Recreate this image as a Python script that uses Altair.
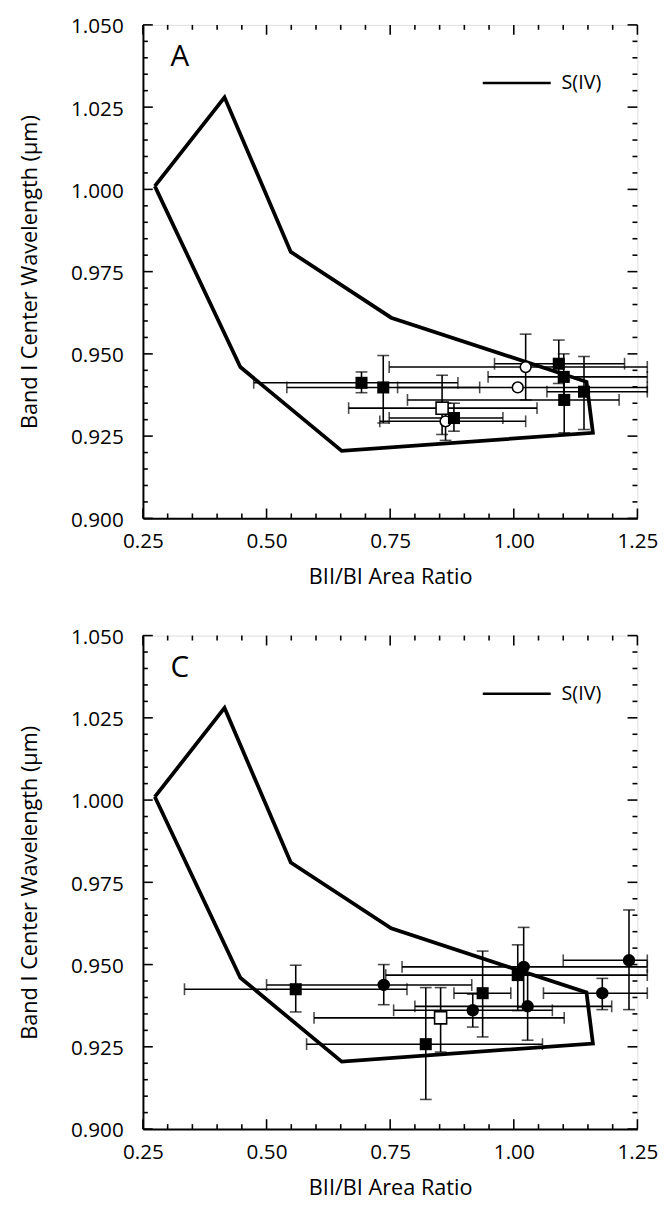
import altair as alt
import pandas as pd

FONT = "Open Sans"
W, H = 502, 501

# S(IV) field outline (closed polygon)
poly_x = [0.274, 0.415, 0.549, 0.752, 1.147, 1.160, 0.652, 0.447, 0.274]
poly_y = [1.001, 1.028, 0.981, 0.961, 0.9415, 0.926, 0.9205, 0.946, 1.001]

# Panel A data
a_kind = ["fsq", "fsq", "fsq", "fsq", "fsq", "fsq", "fsq", "ocirc", "ocirc", "ocirc", "osq"]
a_x    = [0.692, 0.736, 1.091, 1.101, 1.102, 1.142, 0.879, 1.008, 1.024, 0.862, 0.855]
a_y    = [0.9412, 0.9398, 0.9470, 0.9430, 0.9360, 0.9385, 0.9305, 0.9398, 0.9460, 0.9295, 0.9335]
a_xlo  = [0.474, 0.541, 0.961, 0.948, 0.785, 1.067, 0.748, 0.765, 0.748, 0.729, 0.666]
a_xhi  = [0.887, 0.931, 1.224, 1.270, 1.213, 1.270, 0.978, 1.270, 1.270, 1.024, 1.047]
a_ylo  = [0.9382, 0.9290, 0.9410, 0.9360, 0.9260, 0.9270, 0.9265, None, 0.9360, 0.9237, 0.9255]
a_yhi  = [0.9445, 0.9495, 0.9542, 0.9500, 0.9420, 0.9492, 0.9350, None, 0.9560, 0.9350, 0.9435]

# Panel C data
c_kind = ["fsq", "fcirc", "fsq", "fcirc", "osq", "fsq", "fcirc", "fsq", "fcirc", "fcirc", "fcirc"]
c_x    = [0.559, 0.737, 0.937, 0.917, 0.852, 0.822, 1.020, 1.008, 1.028, 1.179, 1.233]
c_y    = [0.9425, 0.9438, 0.9413, 0.9361, 0.9338, 0.9258, 0.9493, 0.9468, 0.9373, 0.9413, 0.9513]
c_xlo  = [0.334, 0.500, 0.879, 0.757, 0.596, 0.581, 0.774, 0.741, 0.800, 1.060, 1.100]
c_xhi  = [0.784, 0.915, 0.994, 1.078, 1.102, 1.058, 1.270, 1.270, 1.198, 1.270, 1.270]
c_ylo  = [0.9356, 0.9378, 0.9280, 0.9310, 0.9234, 0.9090, 0.9370, 0.9360, 0.9270, 0.9363, 0.9363]
c_yhi  = [0.9498, 0.9500, 0.9541, 0.9410, 0.9430, 0.9430, 0.9613, 0.9560, 0.9470, 0.9458, 0.9666]

# Axis ticks
x_major = [0.25, 0.50, 0.75, 1.00, 1.25]
x_minor = [0.30, 0.35, 0.40, 0.45, 0.55, 0.60, 0.65, 0.70, 0.80, 0.85, 0.90, 0.95,
           1.05, 1.10, 1.15, 1.20]
y_major = [0.900, 0.925, 0.950, 0.975, 1.000, 1.025, 1.050]
y_minor = [0.905, 0.910, 0.915, 0.920, 0.930, 0.935, 0.940, 0.945, 0.955, 0.960,
           0.965, 0.970, 0.980, 0.985, 0.990, 0.995, 1.005, 1.010, 1.015, 1.020,
           1.030, 1.035, 1.040, 1.045]

legend_label = "S(IV)"
x_title = "BII/BI Area Ratio"
y_title = "Band I Center Wavelength (μm)"

xs = alt.Scale(domain=[0.25, 1.25], nice=False, zero=False)
ys = alt.Scale(domain=[0.900, 1.050], nice=False, zero=False)


def panel(kind, x, y, xlo, xhi, ylo, yhi, letter):
    df = pd.DataFrame({"kind": kind, "x": x, "y": y, "xlo": xlo, "xhi": xhi,
                       "ylo": ylo, "yhi": yhi})
    poly = pd.DataFrame({"i": list(range(len(poly_x))), "px": poly_x, "py": poly_y})
    xmaj = pd.DataFrame({"t": x_major})
    xmin = pd.DataFrame({"t": x_minor})
    ymaj = pd.DataFrame({"t": y_major})
    ymin = pd.DataFrame({"t": y_minor})

    xaxis = alt.Axis(values=x_major, format=".2f", ticks=False, grid=False,
                     domainColor="black", domainWidth=2, labelFlush=False,
                     labelOverlap=False, labelFont=FONT, labelFontSize=21,
                     labelColor="black", labelPadding=13, title=x_title,
                     titleFont=FONT, titleFontSize=22, titleFontWeight="normal",
                     titleColor="black", titlePadding=15)
    yaxis = alt.Axis(values=y_major, format=".3f", ticks=False, grid=False,
                     domainColor="black", domainWidth=2, labelFlush=False,
                     labelOverlap=False, labelFont=FONT, labelFontSize=21,
                     labelColor="black", labelPadding=20, labelOffset=2,
                     title=y_title, titleFont=FONT, titleFontSize=22,
                     titleFontWeight="normal", titleColor="black", titlePadding=30)

    base = alt.Chart(df)

    outline = alt.Chart(poly).mark_line(color="black", strokeWidth=3.8,
                                        strokeJoin="miter").encode(
        x=alt.X("px:Q", scale=xs, axis=xaxis),
        y=alt.Y("py:Q", scale=ys, axis=yaxis),
        order="i:Q")

    hbar = base.mark_rule(color="black", strokeWidth=1.6, clip=False).encode(
        x=alt.X("xlo:Q", scale=xs), x2="xhi:Q", y=alt.Y("y:Q", scale=ys))
    vbar = base.mark_rule(color="black", strokeWidth=1.6).encode(
        x=alt.X("x:Q", scale=xs), y=alt.Y("ylo:Q", scale=ys), y2="yhi:Q")
    capl = base.mark_tick(orient="vertical", color="black", size=12,
                          thickness=1.6, clip=False).encode(
        x=alt.X("xlo:Q", scale=xs), y=alt.Y("y:Q", scale=ys))
    capr = base.mark_tick(orient="vertical", color="black", size=12,
                          thickness=1.6, clip=False).encode(
        x=alt.X("xhi:Q", scale=xs), y=alt.Y("y:Q", scale=ys))
    capb = base.mark_tick(orient="horizontal", color="black", size=12,
                          thickness=1.6).encode(
        x=alt.X("x:Q", scale=xs), y=alt.Y("ylo:Q", scale=ys))
    capt = base.mark_tick(orient="horizontal", color="black", size=12,
                          thickness=1.6).encode(
        x=alt.X("x:Q", scale=xs), y=alt.Y("yhi:Q", scale=ys))

    fsq = base.transform_filter(alt.datum.kind == "fsq").mark_point(
        shape="square", filled=True, color="black", size=150, opacity=1).encode(
        x=alt.X("x:Q", scale=xs), y=alt.Y("y:Q", scale=ys))
    osq = base.transform_filter(alt.datum.kind == "osq").mark_point(
        shape="square", filled=True, fill="white", stroke="black",
        strokeWidth=1.6, size=150, opacity=1).encode(
        x=alt.X("x:Q", scale=xs), y=alt.Y("y:Q", scale=ys))
    fci = base.transform_filter(alt.datum.kind == "fcirc").mark_point(
        shape="circle", filled=True, color="black", size=160, opacity=1).encode(
        x=alt.X("x:Q", scale=xs), y=alt.Y("y:Q", scale=ys))
    oci = base.transform_filter(alt.datum.kind == "ocirc").mark_point(
        shape="circle", filled=True, fill="white", stroke="black",
        strokeWidth=1.6, size=120, opacity=1).encode(
        x=alt.X("x:Q", scale=xs), y=alt.Y("y:Q", scale=ys))

    def tick_layer(d, orient_side, length):
        m = alt.Chart(d).mark_rule(color="black", strokeWidth=1.6)
        if orient_side == "bottom":
            return m.encode(x=alt.X("t:Q", scale=xs), y=alt.value(H), y2=alt.value(H - length))
        if orient_side == "top":
            return m.encode(x=alt.X("t:Q", scale=xs), y=alt.value(0), y2=alt.value(length))
        if orient_side == "left":
            return m.encode(y=alt.Y("t:Q", scale=ys), x=alt.value(0), x2=alt.value(length))
        return m.encode(y=alt.Y("t:Q", scale=ys), x=alt.value(W), x2=alt.value(W - length))

    ticks = []
    for side in ["bottom", "top"]:
        ticks.append(tick_layer(xmaj, side, 10))
        ticks.append(tick_layer(xmin, side, 5))
    for side in ["left", "right"]:
        ticks.append(tick_layer(ymaj, side, 10))
        ticks.append(tick_layer(ymin, side, 5))

    leg_line = alt.Chart(pd.DataFrame({"lab": [legend_label]})).mark_rule(
        color="black", strokeWidth=2.5).encode(
        x=alt.value(345), x2=alt.value(414), y=alt.value(59))
    leg_text = alt.Chart(pd.DataFrame({"lab": [legend_label]})).mark_text(
        align="left", baseline="middle", font=FONT, fontSize=20, color="black").encode(
        x=alt.value(425), y=alt.value(59), text="lab:N")
    letter_text = alt.Chart(pd.DataFrame({"lab": [letter]})).mark_text(
        align="left", baseline="alphabetic", font=FONT, fontSize=30, color="black").encode(
        x=alt.value(28), y=alt.value(42), text="lab:N")

    layers = [outline, hbar, vbar, capl, capr, capb, capt, *ticks, oci, osq, fci,
              fsq, leg_line, leg_text, letter_text]
    return alt.layer(*layers).properties(width=W, height=H)


pa = panel(a_kind, a_x, a_y, a_xlo, a_xhi, a_ylo, a_yhi, "A")
pc = panel(c_kind, c_x, c_y, c_xlo, c_xhi, c_ylo, c_yhi, "C")

chart = alt.vconcat(pa, pc, spacing=38).properties(
    padding={"left": 9, "top": -2, "right": 5, "bottom": 0}
).configure_view(stroke="black", strokeWidth=2).configure(background="white")

chart.save("out.html", embed_options={"renderer": "svg", "actions": False})
